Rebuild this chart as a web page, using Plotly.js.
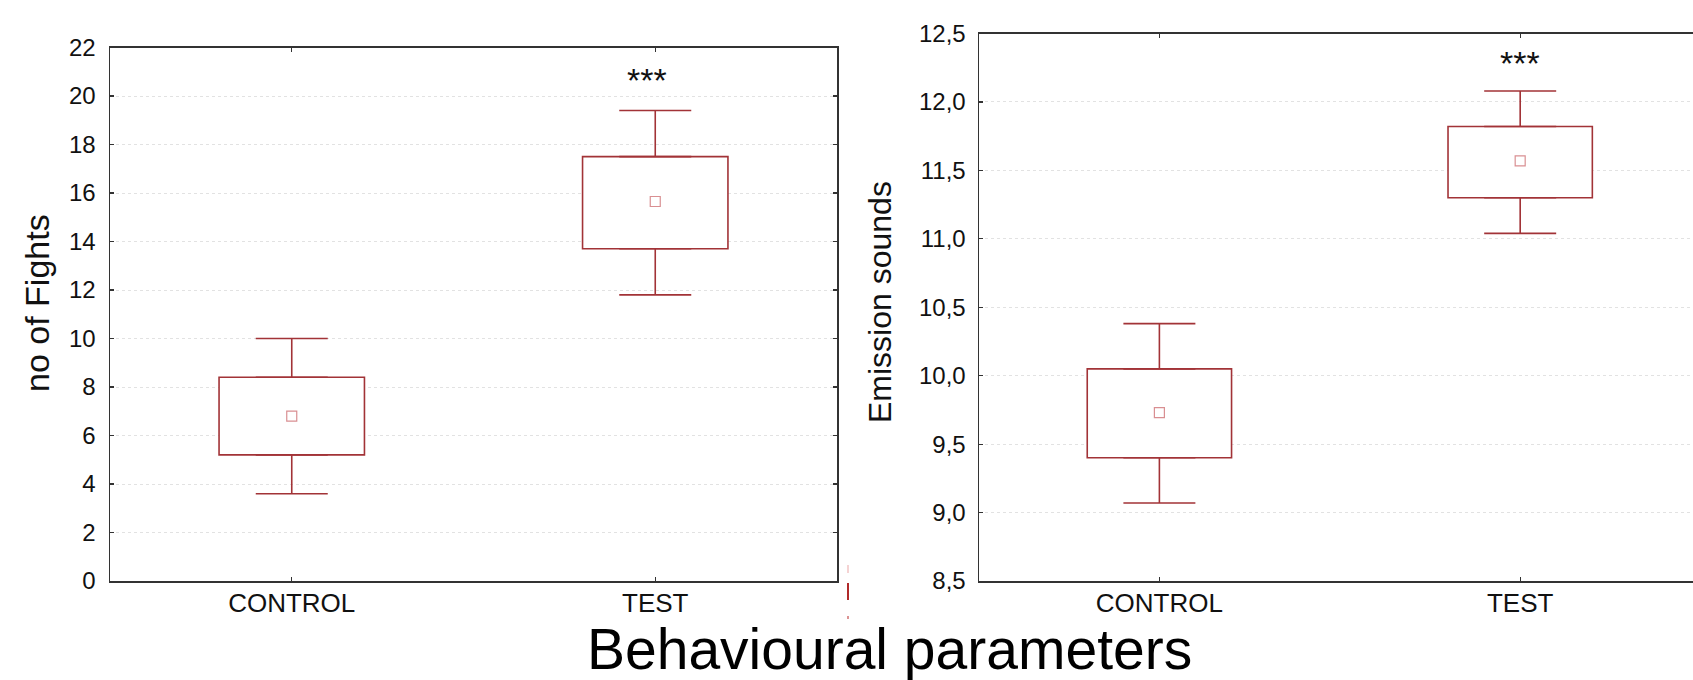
<!DOCTYPE html>
<html>
<head>
<meta charset="utf-8">
<script src="https://cdn.plot.ly/plotly-3.0.1.min.js"></script>
<style>html,body{margin:0;padding:0;background:#fff;}#chart{width:1693px;height:680px;}</style>
</head>
<body>
<div id="chart"></div>
<script>
// ---- data ----
const categories = ['CONTROL', 'TEST'];

// Panel 1: no of Fights
const fightsLower = [3.6, 11.8];
const fightsQ1    = [5.2, 13.7];
const fightsMean  = [6.8, 15.65];
const fightsQ3    = [8.4, 17.5];
const fightsUpper = [10.0, 19.4];

// Panel 2: Emission sounds
const soundsLower = [9.07, 11.04];
const soundsQ1    = [9.40, 11.30];
const soundsMean  = [9.73, 11.57];
const soundsQ3    = [10.05, 11.82];
const soundsUpper = [10.38, 12.08];

const yTitles = ['no of Fights', 'Emission sounds'];
const xTitle = 'Behavioural parameters';
const signif = '***';

// ---- styles ----
const RED = '#a23337';
const MEANC = '#d98f92';
const FONT = 'Liberation Sans, Arial, sans-serif';

function panel(lower, q1, mean, q3, upper, xa, ya) {
  const box = {
    type: 'bar', x: categories, base: q1,
    y: q3.map((v, i) => v - q1[i]),
    width: 0.4, xaxis: xa, yaxis: ya,
    marker: {color: '#ffffff', line: {color: RED, width: 1.6}},
    hoverinfo: 'skip', showlegend: false
  };
  const whiskUp = {
    type: 'scatter', mode: 'markers', x: categories, y: q3,
    xaxis: xa, yaxis: ya, marker: {size: 1, color: 'rgba(0,0,0,0)'},
    error_y: {type: 'data', symmetric: false,
      array: upper.map((v, i) => v - q3[i]), arrayminus: q3.map(() => 0),
      color: RED, thickness: 1.6, width: 36},
    hoverinfo: 'skip', showlegend: false
  };
  const whiskDown = {
    type: 'scatter', mode: 'markers', x: categories, y: q1,
    xaxis: xa, yaxis: ya, marker: {size: 1, color: 'rgba(0,0,0,0)'},
    error_y: {type: 'data', symmetric: false,
      array: q1.map(() => 0), arrayminus: q1.map((v, i) => v - lower[i]),
      color: RED, thickness: 1.6, width: 36},
    hoverinfo: 'skip', showlegend: false
  };
  const meanPts = {
    type: 'scatter', mode: 'markers', x: categories, y: mean,
    xaxis: xa, yaxis: ya,
    marker: {symbol: 'square-open', size: 10, color: MEANC, line: {width: 1.2, color: MEANC}},
    showlegend: false
  };
  return [box, whiskUp, whiskDown, meanPts];
}

const data = [].concat(
  panel(fightsLower, fightsQ1, fightsMean, fightsQ3, fightsUpper, 'x', 'y'),
  panel(soundsLower, soundsQ1, soundsMean, soundsQ3, soundsUpper, 'x2', 'y2')
);

const W = 1693, H = 680;
const px = v => v / W, py = v => 1 - v / H;

const axisCommon = {
  showline: true, linecolor: '#333', linewidth: 1.5,
  ticks: 'inside', ticklen: 4, tickcolor: '#333', tickwidth: 1.2,
  tickfont: {family: FONT, size: 24, color: '#111'},
  zeroline: false, fixedrange: true
};
const catFont = {family: FONT, size: 26, color: '#111'};
const grid = {showgrid: true, gridcolor: '#e2e2e2', griddash: 'dot', gridwidth: 1};

const layout = {
  width: W, height: H,
  margin: {l: 0, r: 0, t: 0, b: 0},
  paper_bgcolor: '#fff', plot_bgcolor: '#fff',
  separators: ',.',
  showlegend: false,
  xaxis: Object.assign({}, axisCommon, {
    domain: [px(110), px(837)], range: [-0.5, 1.5], type: 'category',
    mirror: 'ticks', showgrid: false, anchor: 'y', ticklabelstandoff: -2, tickfont: catFont
  }),
  yaxis: Object.assign({}, axisCommon, grid, {
    domain: [py(581), py(47.5)], range: [0, 22], dtick: 2,
    mirror: 'ticks', anchor: 'x', ticklabelstandoff: 8
  }),
  xaxis2: Object.assign({}, axisCommon, {
    domain: [px(979), 1], range: [-0.5, 1.479], type: 'category',
    mirror: 'ticks', showgrid: false, anchor: 'y2', ticklabelstandoff: -2, tickfont: catFont
  }),
  yaxis2: Object.assign({}, axisCommon, grid, {
    domain: [py(581), py(33.5)], range: [8.5, 12.5], dtick: 0.5, tickformat: '.1f',
    mirror: false, anchor: 'x2', ticklabelstandoff: 7
  }),
  annotations: [
    {xref: 'paper', yref: 'paper', x: px(37), y: py(303), text: yTitles[0], textangle: -90,
     showarrow: false, font: {family: FONT, size: 34, color: '#111'}, xanchor: 'center', yanchor: 'middle'},
    {xref: 'paper', yref: 'paper', x: px(880), y: py(302), text: yTitles[1], textangle: -90,
     showarrow: false, font: {family: FONT, size: 32, color: '#111'}, xanchor: 'center', yanchor: 'middle'},
    {xref: 'paper', yref: 'paper', x: px(890), y: 0, text: xTitle,
     showarrow: false, font: {family: FONT, size: 57, color: '#000'}, xanchor: 'center', yanchor: 'bottom', yshift: -3},
    {xref: 'x', yref: 'y', x: categories[1], y: 20.66, xshift: -8, text: signif,
     showarrow: false, font: {family: FONT, size: 34, color: '#111'}},
    {xref: 'x2', yref: 'y2', x: categories[1], y: 12.288, text: signif,
     showarrow: false, font: {family: FONT, size: 34, color: '#111'}}
  ],
  shapes: [
    {type: 'line', xref: 'paper', yref: 'paper', x0: px(848), x1: px(848), y0: py(565), y1: py(573),
     line: {color: '#f2c4c4', width: 1.5}},
    {type: 'line', xref: 'paper', yref: 'paper', x0: px(848), x1: px(848), y0: py(583), y1: py(600),
     line: {color: '#b02a2a', width: 2}},
    {type: 'line', xref: 'paper', yref: 'paper', x0: px(848), x1: px(848), y0: py(616), y1: py(619),
     line: {color: '#d07070', width: 1.5}}
  ]
};

Plotly.newPlot('chart', data, layout, {staticPlot: true, displayModeBar: false});
</script>
</body>
</html>
